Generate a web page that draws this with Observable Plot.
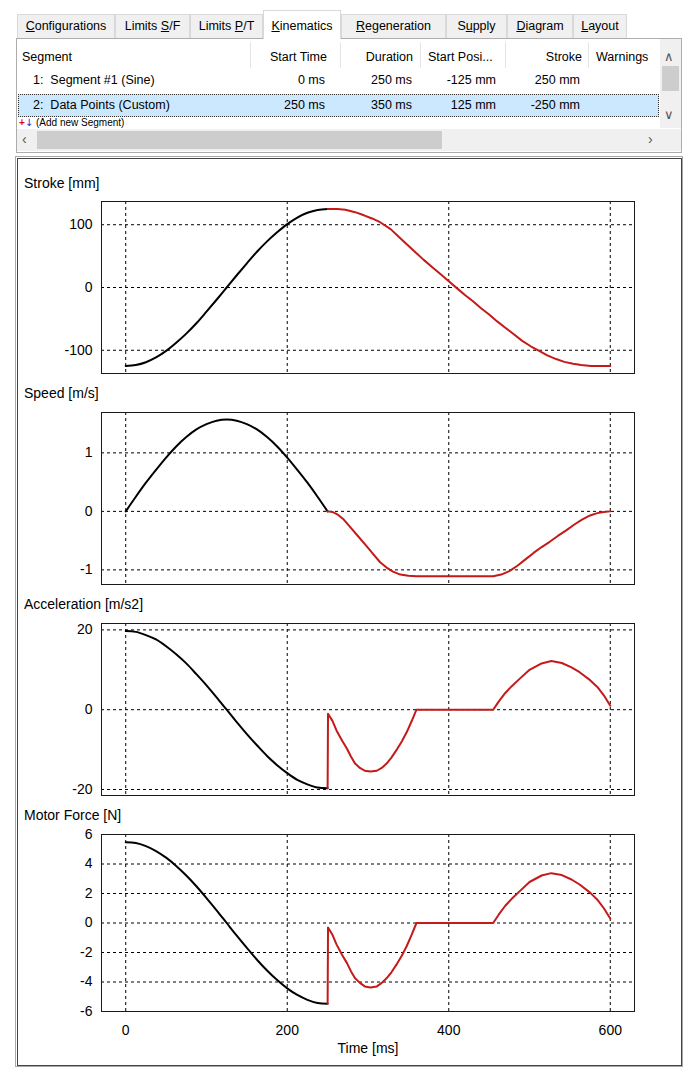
<!DOCTYPE html>
<html><head><meta charset="utf-8">
<script src="https://cdn.jsdelivr.net/npm/d3@7"></script>
<script src="https://cdn.jsdelivr.net/npm/@observablehq/plot@0.6"></script>
<style>
body{margin:0;background:#fff;font-family:"Liberation Sans",Arial,sans-serif;color:#000;}
#page{position:relative;width:683px;height:1068px;overflow:hidden;background:#fff;}
.a{position:absolute;white-space:nowrap;}
.tab{position:absolute;top:14px;height:24px;line-height:22px;font-size:12.5px;text-align:center;background:#f0f0f0;border:1px solid #d9d9d9;border-bottom:none;box-sizing:border-box;}
.tab.sel{top:10px;height:29px;line-height:30px;background:#fff;z-index:2;}
.t{position:absolute;font-size:12.5px;line-height:16px;white-space:nowrap;}
.r{text-align:right;}
.sep{position:absolute;top:42px;width:1px;height:26px;background:#e5e5e5;}
.lbl{position:absolute;left:24px;font-size:14px;line-height:16px;white-space:nowrap;}
.plot{position:absolute;left:0;}
</style></head>
<body><div id="page">
  <!-- tabs -->
  <div class="tab" style="left:17px;width:98px"><u>C</u>onfigurations</div>
  <div class="tab" style="left:115px;width:75px">Limits <u>S</u>/F</div>
  <div class="tab" style="left:190px;width:73px">Limits <u>P</u>/T</div>
  <div class="tab" style="left:341px;width:105px"><u>R</u>egeneration</div>
  <div class="tab" style="left:446px;width:61px">S<u>u</u>pply</div>
  <div class="tab" style="left:507px;width:66px"><u>D</u>iagram</div>
  <div class="tab" style="left:573px;width:54px"><u>L</u>ayout</div>
  <div class="tab sel" style="left:263px;width:78px;border-color:#d9d9d9"><u>K</u>inematics</div>
  <!-- table panel -->
  <div class="a" style="left:16px;top:38px;width:666px;height:115px;border:1px solid #adadad;box-sizing:border-box;background:#fff;"></div>
  <div class="sep" style="left:250px"></div><div class="sep" style="left:340px"></div>
  <div class="sep" style="left:420px"></div><div class="sep" style="left:505px"></div>
  <div class="sep" style="left:588px"></div>
  <div class="t" style="left:22px;top:49px">Segment</div>
  <div class="t r" style="right:356px;top:49px">Start Time</div>
  <div class="t r" style="right:270px;top:49px">Duration</div>
  <div class="t" style="left:428px;top:49px">Start Posi...</div>
  <div class="t r" style="right:101px;top:49px">Stroke</div>
  <div class="t" style="left:596px;top:49px">Warnings</div>
  <div class="t" style="left:33px;top:72px">1:&nbsp; Segment #1 (Sine)</div>
  <div class="t r" style="right:358px;top:72px">0 ms</div>
  <div class="t r" style="right:271px;top:72px">250 ms</div>
  <div class="t r" style="right:187px;top:72px">-125 mm</div>
  <div class="t r" style="right:103px;top:72px">250 mm</div>
  <div class="a" style="left:18px;top:94px;width:641px;height:23px;background:#cce8ff;border:1px dotted #333;box-sizing:border-box;"></div>
  <div class="t" style="left:33px;top:97px">2:&nbsp; Data Points (Custom)</div>
  <div class="t r" style="right:358px;top:97px">250 ms</div>
  <div class="t r" style="right:271px;top:97px">350 ms</div>
  <div class="t r" style="right:187px;top:97px">125 mm</div>
  <div class="t r" style="right:103px;top:97px">-250 mm</div>
  <div class="t" style="left:19px;top:117px;font-size:10px;line-height:11px"><span style="color:#d01010;font-weight:bold">+</span><span style="color:#1030c0;font-family:'DejaVu Sans'">&#x2193;</span> (Add new Segment)</div>
  <!-- vertical scrollbar -->
  <div class="a" style="left:660px;top:39px;width:21px;height:89px;background:#f0f0f0;"></div>
  <div class="a" style="left:662px;top:66px;width:17px;height:25px;background:#cdcdcd;"></div>
  <div class="t" style="left:664px;top:49px;color:#555;font-size:13px">&#x2227;</div>
  <div class="t" style="left:664px;top:107px;color:#555;font-size:13px">&#x2228;</div>
  <!-- horizontal scrollbar -->
  <div class="a" style="left:17px;top:129px;width:664px;height:22px;background:#f0f0f0;"></div>
  <div class="a" style="left:37px;top:131px;width:405px;height:18px;background:#cdcdcd;"></div>
  <div class="t" style="left:22px;top:131px;color:#555;font-size:14px">&lsaquo;</div>
  <div class="t" style="left:648px;top:131px;color:#555;font-size:14px">&rsaquo;</div>
  <!-- chart panel -->
  <div class="a" style="left:15px;top:156px;width:668px;height:911px;border:1px solid #a8a8a8;box-sizing:border-box;"></div>
  <div class="a" style="left:17px;top:158px;width:665px;height:908px;border:1px solid #444;box-sizing:border-box;background:#fff;"></div>
  <div class="lbl" style="top:175px">Stroke [mm]</div>
  <div class="lbl" style="top:385px">Speed [m/s]</div>
  <div class="lbl" style="top:596px">Acceleration [m/s2]</div>
  <div class="lbl" style="top:807px">Motor Force [N]</div>
  <div id="p1" class="plot" style="top:191px"></div>
  <div id="p2" class="plot" style="top:402px"></div>
  <div id="p3" class="plot" style="top:613px"></div>
  <div id="p4" class="plot" style="top:824px"></div>
</div>
<script>
// ---- data ----
const xTicks = [0, 200, 400, 600];
const xDomain = [-30, 630];

// Segment 1 (Sine), black
const tBlack = [0,12.5,25,37.5,50,62.5,75,87.5,100,112.5,125,137.5,150,162.5,175,187.5,200,212.5,225,237.5,250];
const strokeBlack = [-125,-123.5,-119,-111.5,-101,-88,-73.5,-57,-38.5,-19.5,0,19.5,38.5,57,73.5,88,101,111.5,119,123.5,125];
const speedBlack = [0,0.25,0.49,0.71,0.92,1.11,1.27,1.40,1.49,1.55,1.57,1.55,1.49,1.40,1.27,1.11,0.92,0.71,0.49,0.25,0];
const accelBlack = [19.7,19.5,18.7,17.6,15.9,13.9,11.6,8.9,6.1,3.1,0,-3.1,-6.1,-8.9,-11.6,-13.9,-15.9,-17.6,-18.7,-19.5,-19.7];
const forceBlack = [5.48,5.42,5.21,4.88,4.43,3.87,3.22,2.49,1.69,0.86,0,-0.86,-1.69,-2.49,-3.22,-3.87,-4.43,-4.88,-5.21,-5.42,-5.48];

// Segment 2 (Data Points, custom), red
const tStrokeRed = [250,262,272,284,295,305,315,328,338,348,358,369,380,390,400,410,420,430,440,450,460,470,481,491,502,512,522,533,543,554,564,576,588,600];
const strokeRed = [125,125,124,120,115,110,104,93,81,69,57,44,32,21,10,-1,-12,-22,-33,-43,-54,-64,-75,-85,-94,-101,-108,-114,-118.5,-121.5,-123.5,-125,-125,-125];
const tSpeedRed = [250,256,262,270,278,288,298,307,315,323,331,340,350,360,455,465,475,485,495,505,515,525,535,545,556,565,575,584,592,600];
const speedRed = [0,-0.01,-0.05,-0.14,-0.27,-0.43,-0.59,-0.74,-0.87,-0.96,-1.03,-1.08,-1.10,-1.11,-1.11,-1.08,-1.02,-0.93,-0.82,-0.71,-0.61,-0.52,-0.42,-0.33,-0.22,-0.14,-0.07,-0.03,-0.01,0];
const tAccelRed = [250,250.5,256,261,268,274,279,284,290,296,303,311,317,323,329,335,342,348,354,360,455,462,470,478,487,500,515,527,540,552,562,575,584,592,600];
const accelRed = [-19.7,-1.0,-2.8,-5.2,-7.8,-9.8,-11.8,-13.5,-14.6,-15.3,-15.5,-15.3,-14.6,-13.5,-12.0,-10.2,-7.9,-5.6,-2.9,0,0,2.1,4.2,5.9,7.6,10.0,11.6,12.2,11.7,10.6,9.4,7.4,5.7,3.6,1.0];
const forceRed = [-5.48,-0.3,-0.8,-1.45,-2.17,-2.72,-3.28,-3.75,-4.06,-4.3,-4.37,-4.3,-4.06,-3.75,-3.34,-2.84,-2.2,-1.56,-0.81,0,0,0.58,1.17,1.64,2.11,2.78,3.22,3.38,3.25,2.95,2.61,2.06,1.58,1.0,0.3];

const strokeTicks = [-100, 0, 100];
const speedTicks = [-1, 0, 1];
const accelTicks = [-20, 0, 20];
const forceTicks = [-6, -4, -2, 0, 2, 4, 6];
const xLabel = "Time [ms]";

const BLACK = "#000000", RED = "#c41a1a";
const pairs = (ts, vs) => ts.map((t, i) => ({t, v: vs[i]}));

function panel(id, frameH, yDomain, yTicks, black, red, last) {
  const mt = 10, mb = last ? 52 : 4;
  const marks = [
    Plot.ruleX(xTicks, {stroke: "#000", strokeWidth: 1, strokeDasharray: "3,3"}),
    Plot.ruleY(yTicks, {stroke: "#000", strokeWidth: 1, strokeDasharray: "3,3"}),
    Plot.frame({stroke: "#1a1a1a", strokeWidth: 1}),
    Plot.line(black, {x: "t", y: "v", stroke: BLACK, strokeWidth: 2, curve: "monotone-x"}),
    Plot.line(red, {x: "t", y: "v", stroke: RED, strokeWidth: 2, strokeLinejoin: "round"}),
    Plot.axisY({ticks: yTicks, tickSize: 0, tickPadding: 9, label: null, tickFormat: d => String(d), fontSize: 14})
  ];
  if (last) marks.push(Plot.axisX({ticks: xTicks, tickSize: 0, tickPadding: 14, tickFormat: d => String(d),
    label: xLabel, labelAnchor: "center", labelArrow: "none", labelOffset: 41, fontSize: 14}));
  const chart = Plot.plot({
    width: 660, height: mt + frameH + mb,
    marginLeft: 101, marginRight: 26, marginTop: mt, marginBottom: mb,
    style: {fontFamily: "'Liberation Sans', Arial, sans-serif", fontSize: "14px", color: "#000", background: "transparent", overflow: "visible"},
    x: {domain: xDomain, axis: last ? undefined : null},
    y: {domain: yDomain},
    marks
  });
  document.getElementById(id).appendChild(chart);
}

panel("p1", 172, [-137, 137], strokeTicks, pairs(tBlack, strokeBlack), pairs(tStrokeRed, strokeRed), false);
panel("p2", 172, [-1.25, 1.69], speedTicks, pairs(tBlack, speedBlack), pairs(tSpeedRed, speedRed), false);
panel("p3", 172, [-21.5, 21.6], accelTicks, pairs(tBlack, accelBlack), pairs(tAccelRed, accelRed), false);
panel("p4", 177, [-6, 6], forceTicks, pairs(tBlack, forceBlack), pairs(tAccelRed, forceRed), true);
</script>
</body></html>
